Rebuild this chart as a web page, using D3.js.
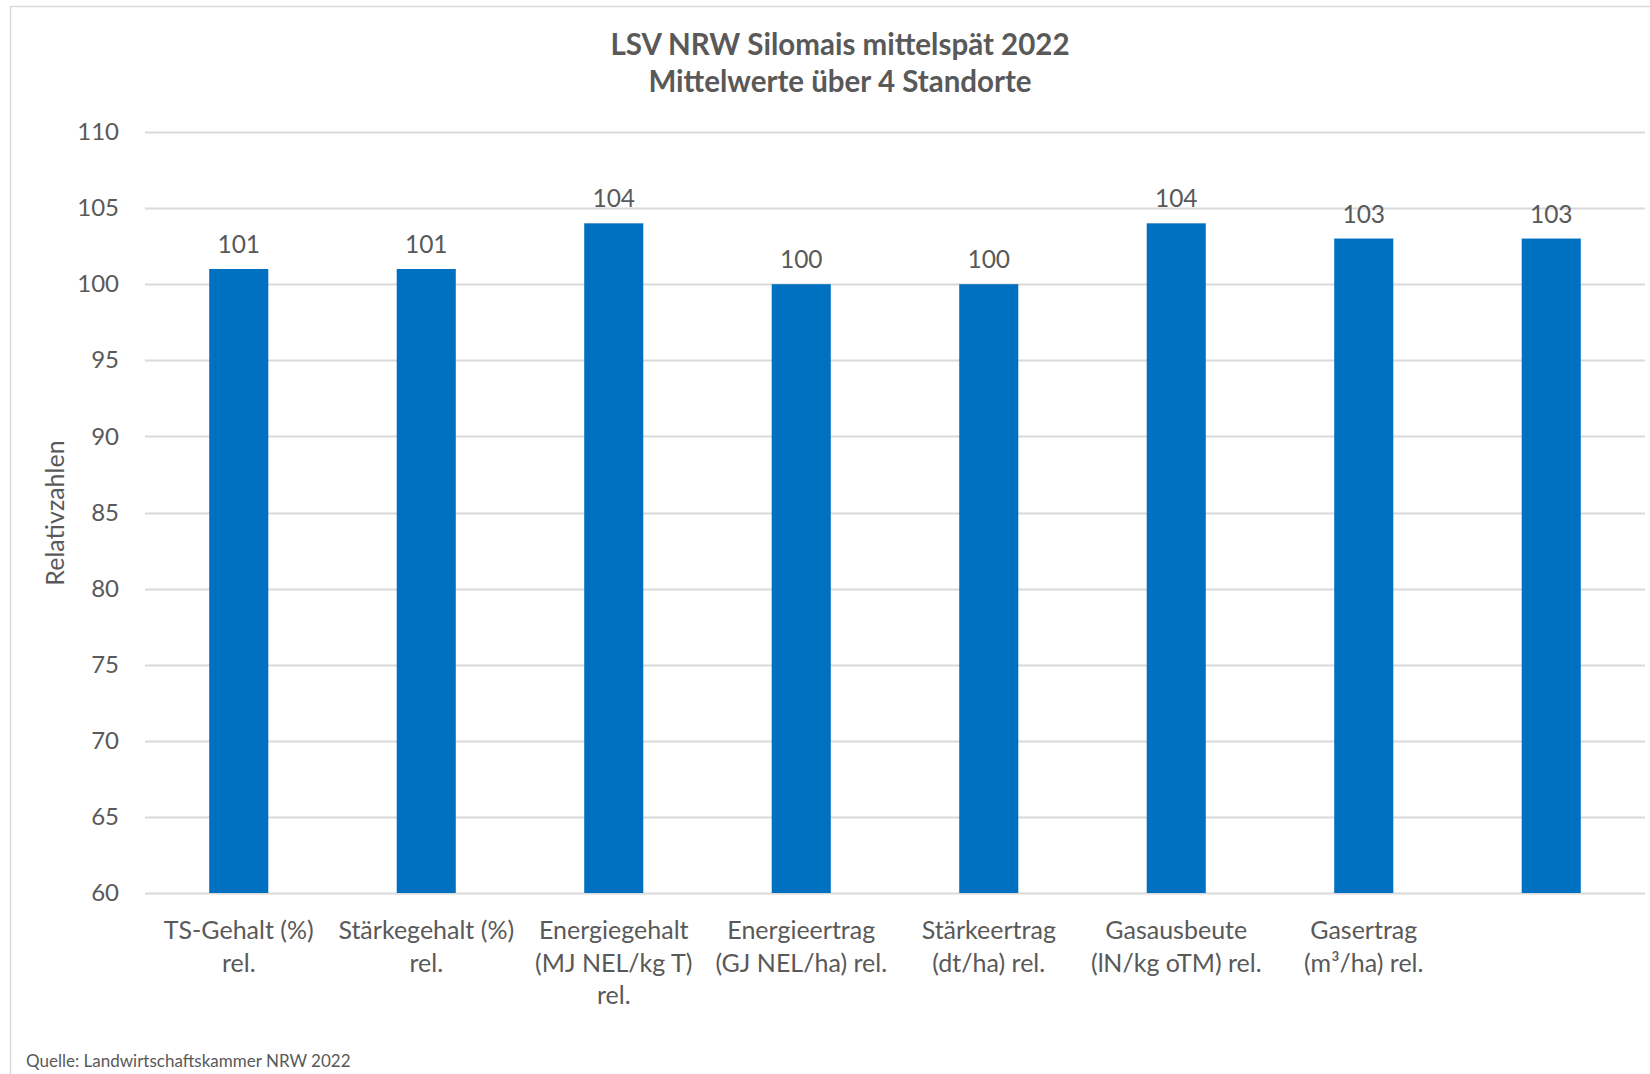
<!DOCTYPE html>
<html>
<head>
<meta charset="utf-8">
<script src="https://cdn.jsdelivr.net/npm/d3@7"></script>
<style>
  html, body { margin: 0; padding: 0; background: #fff; }
  svg text { font-family: Lato, "Open Sans", sans-serif; fill: #595959; }
</style>
</head>
<body>
<svg id="chart" width="1650" height="1074"></svg>
<script>
// chart data
var categories = [
    ["TS-Gehalt (%)", "rel."],
    ["Stärkegehalt (%)", "rel."],
    ["Energiegehalt", "(MJ NEL/kg T)", "rel."],
    ["Energieertrag", "(GJ NEL/ha) rel."],
    ["Stärkeertrag", "(dt/ha) rel."],
    ["Gasausbeute", "(lN/kg oTM) rel."],
    ["Gasertrag", "(m³/ha) rel."],
    []
];
var values = [101, 101, 104, 100, 100, 104, 103, 103];
var yTicks = [60, 65, 70, 75, 80, 85, 90, 95, 100, 105, 110];
var titleLines = ["LSV NRW Silomais mittelspät 2022", "Mittelwerte über 4 Standorte"];
var yTitle = "Relativzahlen";
var source = "Quelle: Landwirtschaftskammer NRW 2022";

var svg = d3.select("#chart");
var margin = {left: 145, right: 5, top: 132, bottom: 181};
var W = 1650, H = 1074;

// outer frame (cut off at the right like the screenshot)
svg.append("path")
    .attr("d", "M1650,6.5 H10.5 V1074")
    .attr("fill", "none")
    .attr("stroke", "#d9d9d9")
    .attr("stroke-width", 1.5);

var x = d3.scaleBand()
    .domain(d3.range(values.length))
    .range([margin.left, W - margin.right])
    .paddingInner(0.685)
    .paddingOuter(0.3425);

var y = d3.scaleLinear()
    .domain([60, 110])
    .range([H - margin.bottom, margin.top]);

// gridlines
svg.append("g").selectAll("line")
    .data(yTicks)
    .enter().append("line")
    .attr("x1", margin.left)
    .attr("x2", W - margin.right)
    .attr("y1", function(d) { return Math.round(y(d)) + 0.5; })
    .attr("y2", function(d) { return Math.round(y(d)) + 0.5; })
    .attr("stroke", "#d9d9d9")
    .attr("stroke-width", 2);

// y axis labels
var yAxis = d3.axisLeft(y).tickValues(yTicks).tickSize(0).tickPadding(0);
var gy = svg.append("g")
    .attr("transform", "translate(" + 119 + ",0)")
    .call(yAxis);
gy.select(".domain").remove();
gy.selectAll("text")
    .style("font-size", "24px")
    .attr("font-family", null)
    .attr("fill", "#595959");

// bars
svg.append("g").selectAll("rect")
    .data(values)
    .enter().append("rect")
    .attr("x", function(d, i) { return x(i); })
    .attr("width", x.bandwidth())
    .attr("y", function(d) { return y(d); })
    .attr("height", function(d) { return y(60) - y(d); })
    .attr("fill", "#0070c0");

// data labels
svg.append("g").selectAll("text")
    .data(values)
    .enter().append("text")
    .attr("x", function(d, i) { return x(i) + x.bandwidth() / 2; })
    .attr("y", function(d) { return y(d) - 16; })
    .attr("text-anchor", "middle")
    .style("font-size", "24.5px")
    .text(function(d) { return d; });

// category labels
var xl = svg.append("g").selectAll("text")
    .data(categories)
    .enter().append("text")
    .attr("text-anchor", "middle")
    .attr("transform", function(d, i) { return "translate(" + (x(i) + x.bandwidth() / 2) + ",939)"; })
    .style("font-size", "25px");
xl.selectAll("tspan")
    .data(function(d) { return d; })
    .enter().append("tspan")
    .attr("x", 0)
    .attr("y", function(d, j) { return j * 32.5; })
    .text(function(d) { return d; });

// y title
svg.append("text")
    .attr("transform", "translate(64,513) rotate(-90)")
    .attr("text-anchor", "middle")
    .style("font-size", "25px")
    .text(yTitle);

// title
svg.append("g").selectAll("text")
    .data(titleLines)
    .enter().append("text")
    .attr("x", 840)
    .attr("y", function(d, i) { return 55 + i * 37; })
    .attr("text-anchor", "middle")
    .style("font-size", "29.5px")
    .style("font-weight", "bold")
    .text(function(d) { return d; });

// source note
svg.append("text")
    .attr("x", 26)
    .attr("y", 1067)
    .style("font-size", "17px")
    .text(source);
</script>
</body>
</html>
